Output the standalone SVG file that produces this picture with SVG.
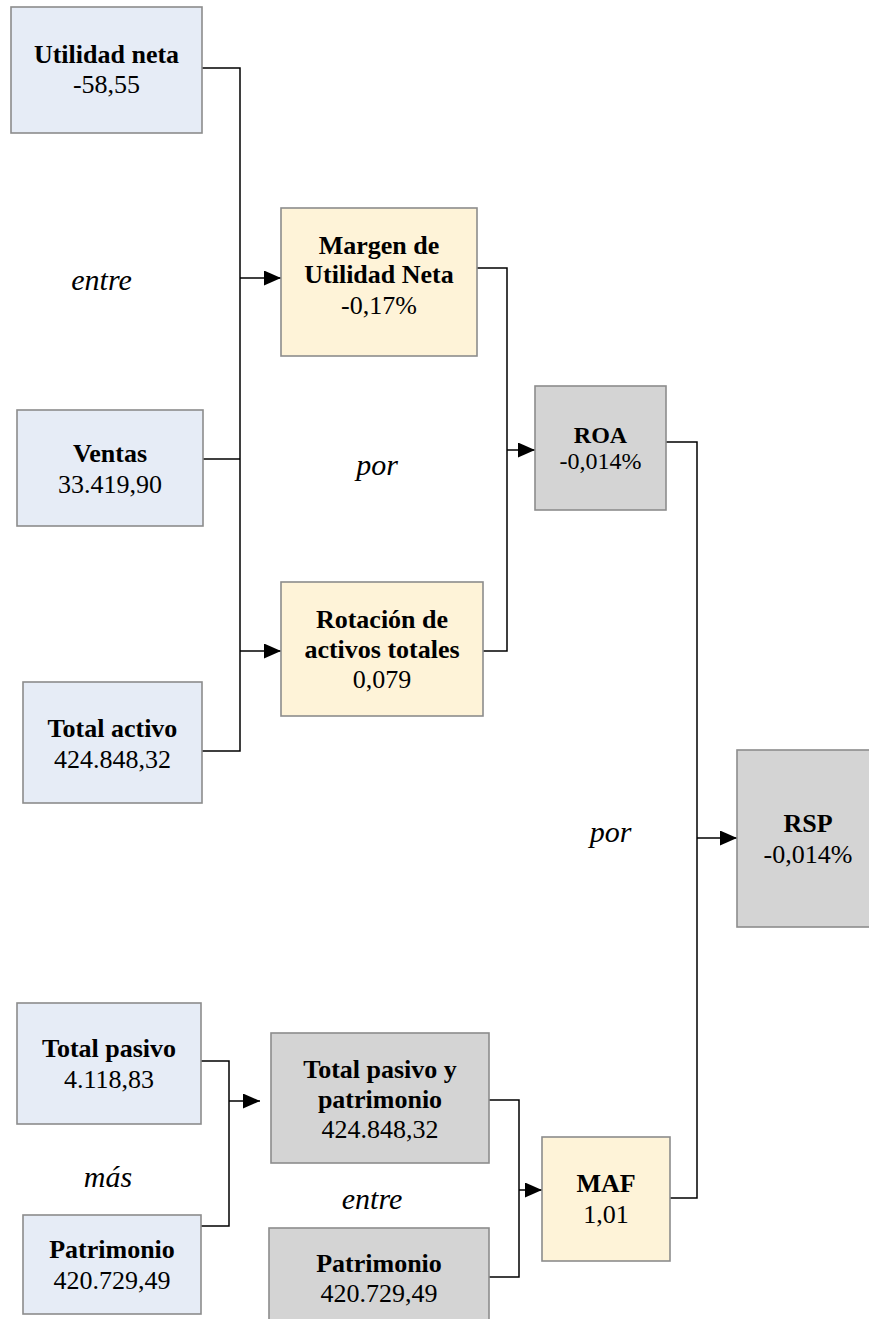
<svg xmlns="http://www.w3.org/2000/svg" width="869" height="1319" viewBox="0 0 869 1319">
<defs>
<marker id="arr" markerUnits="userSpaceOnUse" markerWidth="18" markerHeight="16" refX="17" refY="7.5" orient="auto"><path d="M0,0 L17,7.5 L0,15 z" fill="#000"/></marker>
<style>
.bg{fill:#fff}
.box{stroke:#8c8c8c;stroke-width:1.6}
.blue{fill:#e6ecf6}
.yel{fill:#fef3d8}
.gray{fill:#d4d4d4}
text{font-family:"Liberation Serif","Times New Roman",serif;fill:#000;text-anchor:middle}
.b{font-weight:bold;font-size:26px}
.r{font-size:26px}
.s{font-size:24px}
.i{font-style:italic;font-size:30px}
.ln{fill:none;stroke:#000;stroke-width:1.5}
</style>
</defs>
<rect class="bg" x="0" y="0" width="869" height="1319"/>
<g id="connectors">
<path class="ln" d="M202,68 H240 V751 H202"/>
<path class="ln" d="M203,459 H240"/>
<path class="ln" d="M240,278 H281" marker-end="url(#arr)"/>
<path class="ln" d="M240,651 H281" marker-end="url(#arr)"/>
<path class="ln" d="M477,268 H507 V651 H483"/>
<path class="ln" d="M507,450 H535" marker-end="url(#arr)"/>
<path class="ln" d="M666,442 H697 V1198 H670"/>
<path class="ln" d="M697,838 H737" marker-end="url(#arr)"/>
<path class="ln" d="M201,1061 H229 V1226 H201"/>
<path class="ln" d="M229,1101 H260" marker-end="url(#arr)"/>
<path class="ln" d="M489,1100 H519 V1277 H489"/>
<path class="ln" d="M519,1190 H542" marker-end="url(#arr)"/>
</g>
<g id="utilidad-neta"><rect class="box blue" x="11" y="7" width="191" height="126"/><text class="b" x="106.5" y="63">Utilidad neta</text><text class="r" x="106.5" y="93">-58,55</text></g>
<g id="margen"><rect class="box yel" x="281" y="208" width="196" height="148"/><text class="b" x="379" y="254">Margen de</text><text class="b" x="379" y="283">Utilidad Neta</text><text class="r" x="379" y="314">-0,17%</text></g>
<g id="ventas"><rect class="box blue" x="17" y="410" width="186" height="116"/><text class="b" x="110" y="462">Ventas</text><text class="r" x="110" y="493">33.419,90</text></g>
<g id="rotacion"><rect class="box yel" x="281" y="582" width="202" height="134"/><text class="b" x="382" y="628">Rotación de</text><text class="b" x="382" y="658">activos totales</text><text class="r" x="382" y="688">0,079</text></g>
<g id="total-activo"><rect class="box blue" x="23" y="682" width="179" height="121"/><text class="b" x="112.5" y="737">Total activo</text><text class="r" x="112.5" y="768">424.848,32</text></g>
<g id="roa"><rect class="box gray" x="535" y="386" width="131" height="124"/><text class="b s" x="600.5" y="443">ROA</text><text class="s" x="600.5" y="469">-0,014%</text></g>
<g id="rsp"><rect class="box gray" x="737" y="750" width="142" height="177"/><text class="b" x="808" y="832">RSP</text><text class="r" x="808" y="863">-0,014%</text></g>
<g id="total-pasivo"><rect class="box blue" x="17" y="1003" width="184" height="121"/><text class="b" x="109" y="1057">Total pasivo</text><text class="r" x="109" y="1088">4.118,83</text></g>
<g id="patrimonio-1"><rect class="box blue" x="23" y="1215" width="178" height="99"/><text class="b" x="112" y="1258">Patrimonio</text><text class="r" x="112" y="1289">420.729,49</text></g>
<g id="total-pasivo-patrimonio"><rect class="box gray" x="271" y="1033" width="218" height="130"/><text class="b" x="380" y="1078">Total pasivo y</text><text class="b" x="380" y="1108">patrimonio</text><text class="r" x="380" y="1138">424.848,32</text></g>
<g id="patrimonio-2"><rect class="box gray" x="269" y="1228" width="220" height="100"/><text class="b" x="379" y="1272">Patrimonio</text><text class="r" x="379" y="1302">420.729,49</text></g>
<g id="maf"><rect class="box yel" x="542" y="1137" width="128" height="124"/><text class="b" x="606" y="1192">MAF</text><text class="r" x="606" y="1223">1,01</text></g>
<g id="labels">
<text class="i" x="101.5" y="290">entre</text>
<text class="i" x="377" y="475">por</text>
<text class="i" x="610.5" y="842">por</text>
<text class="i" x="108" y="1187">más</text>
<text class="i" x="372" y="1209">entre</text>
</g>
</svg>
